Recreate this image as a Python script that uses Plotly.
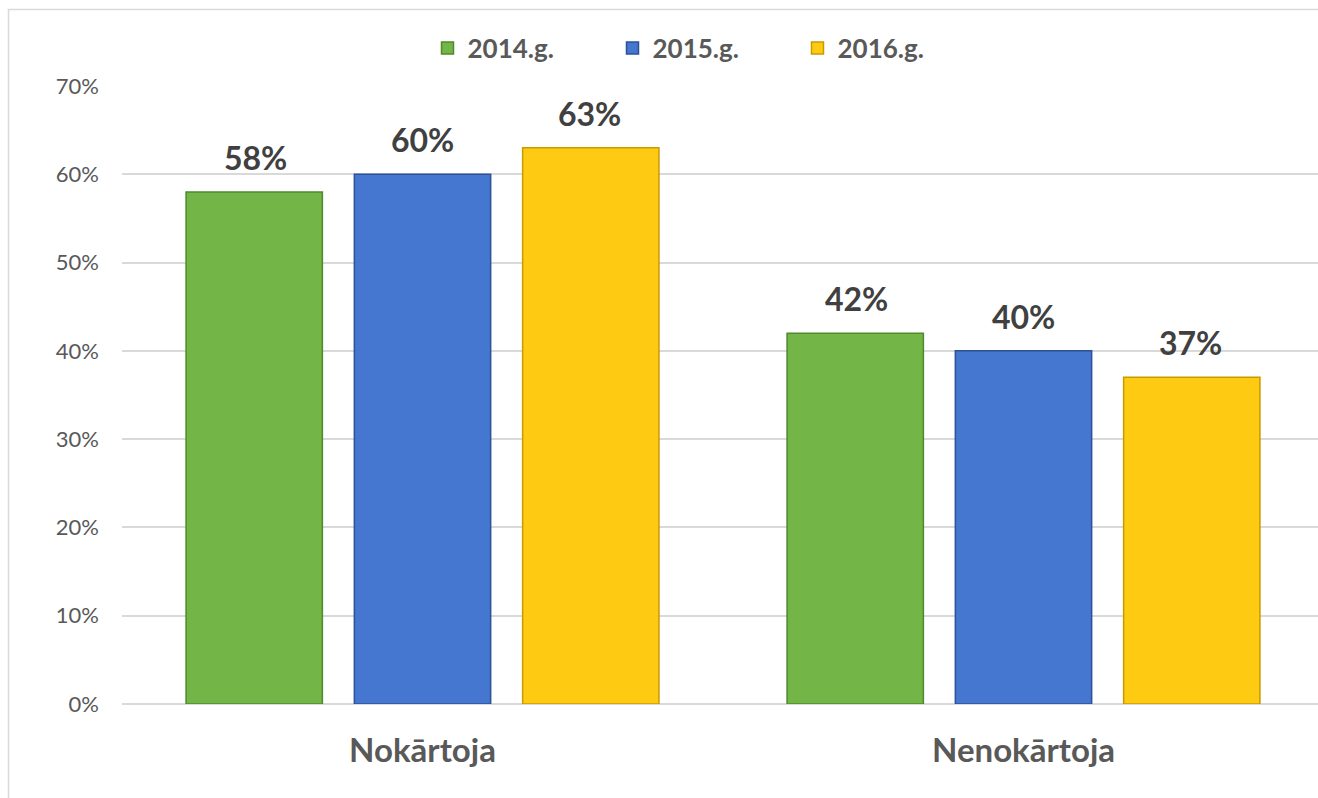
import plotly.graph_objects as go

categories = ["Nokārtoja", "Nenokārtoja"]
years = ["2014.g.", "2015.g.", "2016.g."]
values = {
    "2014.g.": [0.58, 0.42],
    "2015.g.": [0.60, 0.40],
    "2016.g.": [0.63, 0.37],
}
colors = {"2014.g.": "#73b546", "2015.g.": "#4576d0", "2016.g.": "#fecb12"}
lines = {"2014.g.": "#4f8a2d", "2015.g.": "#2c5196", "2016.g.": "#c99a00"}
label_shift = {"2014.g.": -167, "2015.g.": 0, "2016.g.": 167}

fig = go.Figure()
annotations = []
for y in years:
    fig.add_trace(go.Bar(
        name=y, x=categories, y=values[y],
        marker=dict(color=colors[y], line=dict(color=lines[y], width=1.5)),
    ))
    for c, v in zip(categories, values[y]):
        annotations.append(dict(
            x=c, y=v, xref="x", yref="y", text=f"{v*100:.0f}%",
            showarrow=False, xanchor="center", yanchor="bottom",
            xshift=label_shift[y], yshift=13,
            font=dict(family="Lato", size=32, color="#404040", weight="bold"),
        ))

W, H = 1318, 798
L, R, T, B = 122, 0, 86, 94
pw, ph = W - L - R, H - T - B

def px_x(p):
    return (p - L) / pw

def px_y(p):
    return (H - B - p) / ph

fig.update_layout(
    width=W, height=H,
    margin=dict(l=L, r=R, t=T, b=B),
    paper_bgcolor="white", plot_bgcolor="white",
    barmode="group", bargap=0.16, bargroupgap=0.19,
    font=dict(family="Lato", color="#595959"),
    legend=dict(
        orientation="h", x=px_x(705), xanchor="center", y=px_y(48), yanchor="middle",
        font=dict(size=26, color="#595959", weight="bold"),
        entrywidth=140, itemwidth=30,
    ),
    xaxis=dict(
        range=[-0.5, 1.49], showgrid=False, showline=False, ticks="",
        tickfont=dict(size=33, color="#595959", weight="bold"),
        ticklabelstandoff=24,
    ),
    yaxis=dict(
        range=[0, 0.7], dtick=0.1, tickformat=".0%",
        showgrid=True, gridcolor="#d9d9d9", gridwidth=1.5,
        zeroline=True, zerolinecolor="#d9d9d9", zerolinewidth=1.5,
        showline=False, ticks="",
        tickfont=dict(size=22, color="#595959"),
        ticklabelstandoff=22,
    ),
    annotations=annotations,
    shapes=[dict(
        type="rect", xref="paper", yref="paper",
        x0=px_x(8.5), x1=px_x(1340), y0=px_y(820), y1=px_y(9.5),
        line=dict(color="#d9d9d9", width=1.5), fillcolor="rgba(0,0,0,0)", layer="below",
    )],
)

fig.write_html(
    "out.html",
    config={"displayModeBar": False},
    post_script="document.body.style.margin='0';document.body.style.overflow='hidden';",
)
